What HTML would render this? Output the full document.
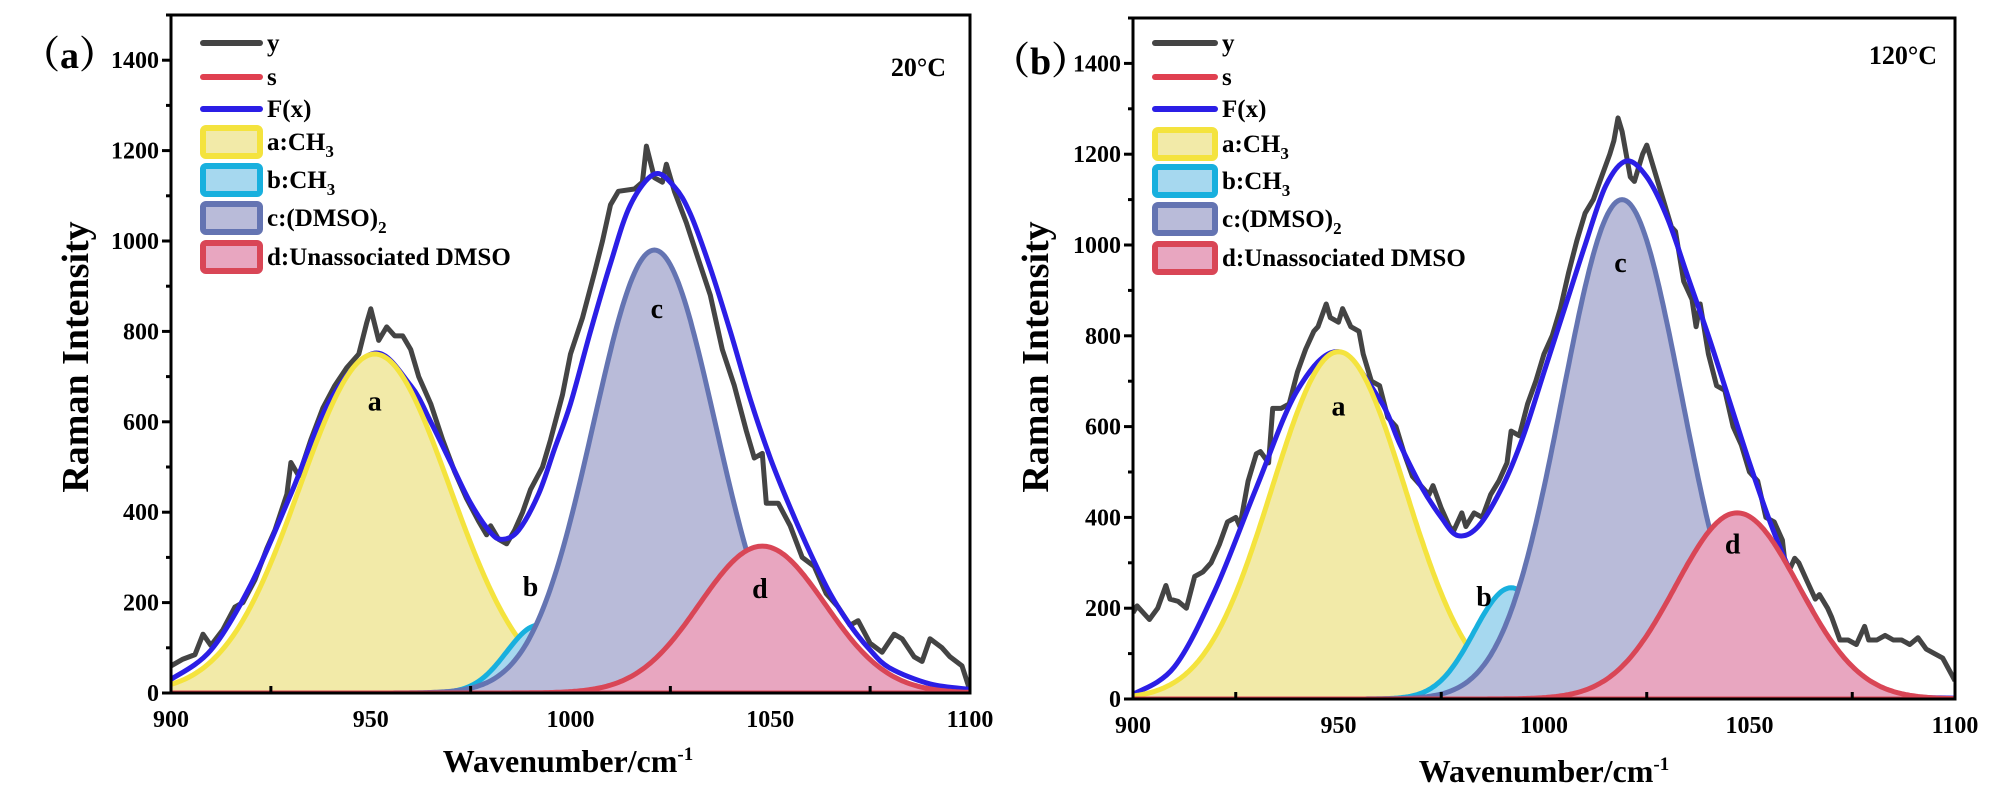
<!DOCTYPE html>
<html><head><meta charset="utf-8">
<style>
html,body{margin:0;padding:0;background:#fff;}
svg{display:block;font-family:"Liberation Serif",serif;font-weight:bold;}
</style></head>
<body>
<svg id="chart" width="1999" height="788" viewBox="0 0 1999 788" xmlns="http://www.w3.org/2000/svg"></svg>
<script>
// ---------- data: panel (a) 20°C ----------
const aRawX = [900,903,906,908,910,913,916,918,921,924,926,929,930,932,935,938,941,944,947,949,950,952,954,956,958,960,962,965,968,971,974,977,979,980,982,984,986,988,990,993,995,998,1000,1003,1006,1008,1010,1012,1016,1018,1019,1021,1023,1024,1026,1029,1032,1035,1038,1041,1044,1046,1048,1049,1052,1055,1058,1061,1064,1067,1070,1072,1075,1078,1081,1083,1086,1088,1090,1093,1095,1098,1100];
const aRawY = [60,75,85,130,105,140,190,200,250,320,360,440,510,480,560,630,680,720,750,820,850,780,810,790,790,760,700,640,560,490,430,380,350,370,340,330,360,400,450,500,560,660,750,830,930,1000,1080,1110,1115,1130,1210,1140,1130,1170,1110,1040,960,880,760,680,580,520,530,420,420,370,300,280,220,190,150,160,110,90,130,120,80,70,120,100,80,60,5];
const aFitX = [900,910,920,930,940,951,960,965,970,975,980,983,987,992,996,1000,1005,1010,1015,1021,1026,1030,1035,1040,1045,1050,1055,1060,1065,1070,1075,1080,1090,1100];
const aFitY = [30,95,240,440,650,752,680,600,510,420,355,340,360,440,540,640,800,950,1080,1148,1120,1060,940,800,650,520,410,310,220,150,95,55,20,8];
// peaks: center, amplitude, sigma
const aPeakCenter = [951,992,1021,1048];
const aPeakAmp = [750,150,980,325];
const aPeakSigma = [18.8,8,15.3,15.7];
// ---------- data: panel (b) 120°C ----------
const bRawX = [900,901,903,904,906,908,909,911,913,915,917,919,921,923,925,926,928,930,931,933,934,936,938,940,942,944,945,947,948,950,951,953,955,956,958,960,962,964,966,968,970,972,973,975,977,978,980,981,983,985,987,989,991,992,994,996,998,1000,1002,1004,1006,1008,1010,1012,1014,1016,1017,1018,1019,1021,1022,1024,1025,1027,1029,1031,1032,1034,1036,1037,1038,1040,1042,1044,1046,1048,1050,1052,1054,1056,1058,1059,1061,1062,1064,1066,1067,1069,1070,1072,1074,1076,1078,1079,1081,1083,1085,1087,1089,1091,1093,1095,1097,1100];
const bRawY = [190,205,185,175,200,250,220,215,200,270,280,300,340,390,400,380,480,540,545,520,640,640,650,720,770,810,820,870,840,830,860,820,810,760,700,690,620,600,540,490,470,450,470,420,380,370,410,380,410,400,450,480,520,590,580,650,700,760,800,860,940,1010,1070,1100,1150,1200,1230,1280,1250,1150,1140,1200,1220,1160,1100,1040,1030,920,880,820,870,760,690,680,600,560,500,480,400,390,350,270,310,300,260,220,230,200,180,130,130,120,160,130,130,140,130,130,120,135,110,100,90,40];
const bFitX = [900,910,920,930,940,950,960,965,970,975,979,984,990,995,1000,1005,1010,1015,1020,1025,1030,1035,1040,1045,1050,1055,1060,1065,1070,1075,1080,1090,1100];
const bFitY = [10,70,240,465,680,765,660,560,470,400,360,380,470,580,720,860,1000,1130,1185,1150,1060,930,800,660,520,390,280,200,110,55,20,5,2];
const bPeakCenter = [950,992,1019,1047];
const bPeakAmp = [765,245,1100,410];
const bPeakSigma = [16.2,9,14.5,15];

const xTicks = [900,950,1000,1050,1100];
const xTickLabels = ["900","950","1000","1050","1100"];
const yTicks = [0,200,400,600,800,1000,1200,1400];
const yTickLabels = ["0","200","400","600","800","1000","1200","1400"];
const peakNames = ["a","b","c","d"];
const legendLabels = ["y","s","F(x)","a:CH","b:CH","c:(DMSO)","d:Unassociated DMSO"];
const legendSubs = ["","","","3","3","2",""];

const NS="http://www.w3.org/2000/svg";
const svg=document.getElementById('chart');
function mk(tag,attrs,parent){const e=document.createElementNS(NS,tag);for(const k in attrs)e.setAttribute(k,attrs[k]);(parent||svg).appendChild(e);return e;}

const peakFill=["#f2eaa8","#a6d8ef","#b9bbd9","#e8a6c0"];
const peakStroke=["#f4e33e","#18b0de","#6474b2","#d94656"];

function drawPanel(p){
  const g=mk('g',{});
  
  
  const X=v=>p.L+(v-900)/200*(p.R-p.L);
  const Y=v=>p.B-v/1500*(p.B-p.T);
  const clipId=p.name+'-clip';
  const cp=mk('clipPath',{id:clipId},g);mk('rect',{x:p.L,y:p.T,width:p.R-p.L,height:p.B-p.T},cp);
  const plot=mk('g',{'clip-path':'url(#'+clipId+')'},g);
  
  
  let d='';p.rawX.forEach((x,i)=>{d+=(i?'L':'M')+X(x).toFixed(1)+' '+Y(p.rawY[i]).toFixed(1);});
  const raw=mk('path',{d,fill:'none',stroke:'#444',"stroke-width":5,"stroke-linejoin":"round"},plot);
  
  
  const pts=p.fitX.map((x,i)=>[X(x),Y(p.fitY[i])]);
  let fd='M'+pts[0][0]+' '+pts[0][1];
  for(let i=0;i<pts.length-1;i++){const p0=pts[Math.max(0,i-1)],p1=pts[i],p2=pts[i+1],p3=pts[Math.min(pts.length-1,i+2)];
    fd+='C'+(p1[0]+(p2[0]-p0[0])/6)+' '+(p1[1]+(p2[1]-p0[1])/6)+' '+(p2[0]-(p3[0]-p1[0])/6)+' '+(p2[1]-(p3[1]-p1[1])/6)+' '+p2[0]+' '+p2[1];}
  const fit=mk('path',{d:fd,fill:'none',stroke:'#2b1ee6',"stroke-width":5},plot);
  
  
  [0,1,2,3].forEach(k=>{
    let pd='M'+X(900)+' '+Y(0);
    for(let x=900;x<=1100;x+=0.5){const v=p.amp[k]*Math.exp(-Math.pow(x-p.cen[k],2)/(2*p.sig[k]*p.sig[k]));pd+='L'+X(x).toFixed(1)+' '+Y(v).toFixed(1);}
    const area=mk('path',{d:pd+'L'+X(1100)+' '+Y(0)+'Z',fill:peakFill[k],stroke:'none'},plot);
    
    
    const ln=mk('path',{d:pd.replace('M'+X(900)+' '+Y(0)+'L','M'),fill:'none',stroke:peakStroke[k],"stroke-width":5},plot);
    
    
  });
  const s=mk('line',{x1:p.L,x2:p.R,y1:Y(0)-1,y2:Y(0)-1,stroke:'#e04050',"stroke-width":3},plot);
  
  
  p.lab.forEach((l,k)=>{const t=mk('text',{x:X(l[0]),y:Y(l[1]),"font-size":28,"text-anchor":"middle"},g);t.textContent=peakNames[k];
    
    });
  const fr=mk('rect',{x:p.L,y:p.T,width:p.R-p.L,height:p.B-p.T,fill:'none',stroke:'#000',"stroke-width":3},g);
  
  
  for(let v=0;v<=1500;v+=100){const maj=v%200===0;mk('line',{x1:p.L-(maj?9:5),x2:p.L,y1:Y(v),y2:Y(v),stroke:'#000',"stroke-width":3},g);}
  yTicks.forEach((v,i)=>{const t=mk('text',{x:p.L-12,y:Y(v)+8,"font-size":24,"text-anchor":"end"},g);t.textContent=yTickLabels[i];
    
    });
  for(let v=900;v<=1100;v+=25){const maj=v%50===0;mk('line',{x1:X(v),x2:X(v),y1:p.B,y2:p.B-(maj?0:7),stroke:'#000',"stroke-width":3},g);}
  xTicks.forEach((v,i)=>{const t=mk('text',{x:X(v),y:p.B+34,"font-size":24,"text-anchor":"middle"},g);t.textContent=xTickLabels[i];
    
    });
  const yt=mk('text',{x:0,y:0,"font-size":38,"text-anchor":"middle",transform:`translate(${p.ytx},${p.yty}) rotate(-90)`},g);yt.textContent='Raman Intensity';
  
  
  const xt=mk('text',{x:p.xtx,y:p.xty,"font-size":32,"text-anchor":"middle"},g);xt.innerHTML='Wavenumber/cm<tspan dy="-12" font-size="19">-1</tspan>';
  
  
  const pl=mk('text',{x:p.plx,y:p.ply,"font-size":38,"font-family":'"Liberation Serif","Noto Serif CJK SC",serif'},g);pl.textContent=p.panelLabel;
  
  
  const tl=mk('text',{x:p.tx,y:p.ty,"font-size":26,"text-anchor":"end"},g);tl.textContent=p.temp;
  
  
  const lg=mk('g',{},g);
  
  
  const lineCols=['#444','#e04050','#2b1ee6'];
  legendLabels.forEach((lab,i)=>{
    const cy=p.legY[i];
    const e=mk('g',{},lg);
    
    
    if(i<3){mk('line',{x1:p.legX0+3,x2:p.legX1-3,y1:cy,y2:cy,stroke:lineCols[i],"stroke-width":6,"stroke-linecap":"round"},e);}
    else{const k=i-3;mk('rect',{x:p.legX0+3,y:cy-14,width:p.legX1-p.legX0-6,height:28,rx:3,fill:peakFill[k],stroke:peakStroke[k],"stroke-width":6},e);}
    const t=mk('text',{x:p.legX1+4,y:cy+8,"font-size":25},e);
    t.textContent=lab;
    if(legendSubs[i]){const ts=mk('tspan',{dy:7,"font-size":17},t);ts.textContent=legendSubs[i];}
  });
}

drawPanel({name:'panel-a',L:171,R:970,T:15,B:693,rawX:aRawX,rawY:aRawY,fitX:aFitX,fitY:aFitY,cen:aPeakCenter,amp:aPeakAmp,sig:aPeakSigma,
  lab:[[951,625],[990,215],[1021.6,830],[1047.4,210]],ytx:88,yty:357,xtx:568,xty:772,plx:22,ply:68,panelLabel:'（a）',tx:946,ty:76,temp:'20°C',
  legX0:200,legX1:263,legY:[43,77,109,142,180,218,257]});
drawPanel({name:'panel-b',L:1133,R:1955,T:18,B:699,rawX:bRawX,rawY:bRawY,fitX:bFitX,fitY:bFitY,cen:bPeakCenter,amp:bPeakAmp,sig:bPeakSigma,
  lab:[[950,625],[985.4,205],[1018.6,940],[1045.9,320]],ytx:1048,yty:357,xtx:1544,xty:782,plx:992,ply:74,panelLabel:'（b）',tx:1937,ty:64,temp:'120°C',
  legX0:1152,legX1:1218,legY:[43,77,109,144,181,219,258]});
</script>
</body></html>
